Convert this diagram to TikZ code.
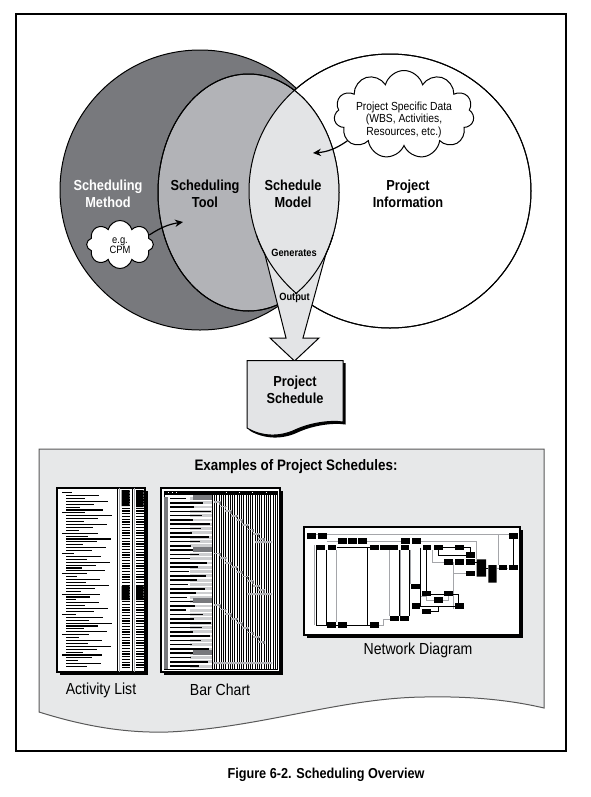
\documentclass[tikz,border=0pt]{standalone}
\usepackage{fontspec}
\setmainfont{Liberation Sans}
\newfontfamily\condfont[FakeStretch=0.88]{Liberation Sans}
\usetikzlibrary{shapes.symbols,arrows.meta}
\definecolor{methodgray}{RGB}{120,121,125}
\definecolor{toolgray}{RGB}{178,179,183}
\definecolor{modelgray}{RGB}{227,228,230}
\definecolor{panelgray}{RGB}{231,232,233}
\definecolor{linkgray}{RGB}{165,166,170}
\tikzset{every picture/.style={line width=0.75pt}}
\tikzset{
  biglabel/.style={font=\condfont\bfseries\fontsize{10.9}{12.5}\selectfont, align=center, inner sep=0pt},
  smalllabel/.style={font=\condfont\bfseries\fontsize{7.9}{9}\selectfont, inner sep=0pt},
  cloudtext/.style={font=\condfont\fontsize{8.8}{9.4}\selectfont, align=center, inner sep=0pt},
  thumbtitle/.style={font=\condfont\fontsize{12}{14}\selectfont, inner sep=0pt},
  puffcloud/.style={cloud, draw, fill=white, cloud ignores aspect, inner sep=0pt},
  linkarrow/.style={-{Stealth[length=6pt,width=5.5pt]}, line width=0.9pt},
  netline/.style={line width=0.45pt},
  netgray/.style={draw=linkgray, line width=0.7pt},
}

\begin{document}
\begin{tikzpicture}[x=0.75pt,y=0.75pt,yscale=-1,xscale=1]
	\useasboundingbox (0,0) rectangle (590,797);

	%Frame
	\draw [line width=0.9pt] (16,14) rectangle (566,751);

	%Shape: Circle - scheduling method
	\filldraw [fill=methodgray] (200,190) circle [radius=140];
	%Shape: Ellipse - project information
	\filldraw [fill=white] (390,191) circle [x radius=141, y radius=137];
	%Shape: Ellipse - scheduling tool
	\filldraw [fill=toolgray] (248.5,192.5) circle [x radius=90.5, y radius=118.5];
	%Shape: Lens - schedule model
	\begin{scope}
		\clip (248.5,192.5) circle [x radius=90.5, y radius=118.5];
		\fill [modelgray] (390,191) circle [x radius=141, y radius=137];
	\end{scope}
	\draw (390,191) circle [x radius=141, y radius=137];
	\draw (248.5,192.5) circle [x radius=90.5, y radius=118.5];

	%Shape: Output arrow
	\fill [modelgray] (264.8,254) -- (286,338) -- (270,338) -- (294.5,361) -- (319,338) -- (303,338) -- (325.9,254) -- cycle;
	\draw (264.8,254) -- (286,338) -- (270,338) -- (294.5,361) -- (319,338) -- (303,338) -- (325.9,254);
	\begin{scope}
		\clip (250,235) rectangle (345,293.5);
		\draw (390,191) circle [x radius=141, y radius=137];
		\draw (248.5,192.5) circle [x radius=90.5, y radius=118.5];
	\end{scope}

	% Text Node
	\node [biglabel, text=white] (method) at (108,194) {Scheduling\\Method};
	% Text Node
	\node [biglabel] (tool) at (205,194) {Scheduling\\Tool};
	% Text Node
	\node [biglabel] (model) at (293,194) {Schedule\\Model};
	% Text Node
	\node [biglabel] (info) at (408,194) {Project\\Information};
	% Text Node
	\node [smalllabel] (generates) at (294,253) {Generates};
	% Text Node
	\node [smalllabel] (output) at (294.5,298) {Output};

	%Shape: Cloud - project data
	\node [puffcloud, cloud puffs=11, minimum width=105pt, minimum height=66pt] (datacloud) at (404,114.5) {};
	\node [cloudtext] (datatext) at (404,119.5) {Project Specific Data\\(WBS, Activities,\\Resources, etc.)};
	%Shape: Cloud - method example
	\node [puffcloud, cloud puffs=8, minimum width=50pt, minimum height=36pt] (cpmcloud) at (120,244.5) {};
	\node [cloudtext, font=\condfont\fontsize{8}{7.5}\selectfont] (cpmtext) at (120,246) {e.g.\\CPM};

	\coordinate (modeltip) at (313,153);
	\coordinate (tooltip) at (183,222);
	%Curve Lines
	\draw [linkarrow] (datacloud.205) to [bend right=15] (modeltip);
	\draw [linkarrow] (cpmcloud.18) to [bend right=12] (tooltip);

	%Shape: Document - project schedule
	\fill [shift={(2.5,2.5)}] (247,360.7) -- (343,360.7) -- (343,422) .. controls (330,420) and (310,423) .. (295,430) .. controls (280,437) and (262,437) .. (247,428) -- cycle;
	\filldraw [fill=modelgray] (247,360.7) -- (343,360.7) -- (343,422) .. controls (330,420) and (310,423) .. (295,430) .. controls (280,437) and (262,437) .. (247,428) -- cycle;
	\node [biglabel] (schedule) at (295,390) {Project\\Schedule};

	%Shape: Panel - examples
	\filldraw [fill=panelgray, draw=black!65] (39,449) -- (544,449) -- (544,708) .. controls (510,700) and (470,696) .. (424,697) .. controls (340,698) and (260,728) .. (168,732) .. controls (130,733) and (90,728) .. (39,712) -- cycle;
	\node [font=\condfont\bfseries\fontsize{11.4}{13}\selectfont, inner sep=0pt] (examples) at (296,467) {Examples of Project Schedules:};

	%Thumbnail: activity list
	\fill (59.5,490.5) rectangle (147.5,674.5);
	\filldraw [fill=white, line width=1pt] (57,488) rectangle (145,672);
	\foreach \i in {0,...,60}{
		\pgfmathsetmacro{\yy}{492+2.9*\i}
		\pgfmathsetmacro{\len}{10+mod(\i*23,37)}
		\pgfmathsetmacro{\xs}{mod(\i,7)==0 ? 62 : 66}
		\fill (\xs,\yy) rectangle ++(\len,1.1);
	}
	\draw [line width=0.4pt] (117.5,488) -- (117.5,672) (132.5,488) -- (132.5,672);
	\draw [linkgray, line width=0.6pt] (119.5,488) -- (119.5,672) (134.5,488) -- (134.5,672);
	\foreach \i in {0,...,64}{
		\pgfmathsetmacro{\yy}{491+2.75*\i}
		\fill (121.5,\yy) rectangle ++(8,1.3);
		\fill (136,\yy) rectangle ++(7.5,1.3);
	}
	\fill (121.5,490) rectangle (129.5,506) (136,490) rectangle (143.5,507);
	\fill (121.5,586) rectangle (129.5,600) (136,586) rectangle (143.5,600);

	%Thumbnail: bar chart
	\fill (163.5,490.5) rectangle (282.5,674.5);
	\filldraw [fill=white, line width=1pt] (161,488) rectangle (280,672);
	\draw [line width=0.45pt] (164,491) rectangle (277,669);
	\fill (164,491) rectangle (277,494.5);
	\foreach \x in {168,172,176,226,239,252,266}
		\fill [white] (\x,491.8) rectangle ++(1.2,1.6);
	\fill [methodgray] (164,497) rectangle (168,669);
	\foreach \x in {212,214.25,...,276}
		\draw [line width=0.35pt] (\x,494.5) -- (\x,669);
	\foreach \i in {0,...,39}{
		\pgfmathsetmacro{\yy}{497+4.3*\i}
		\pgfmathsetmacro{\len}{16+mod(\i*17,26)}
		\fill [toolgray!65] (190,\yy) rectangle (212,\yy+2.8);
		\fill (170,\yy+0.6) rectangle ++(\len,1.6);
	}
	\foreach \yy in {495,547,598,650}
		\fill [methodgray] (193,\yy) rectangle (212,\yy+4.5);
	\foreach \s in {0,1,2}
		\foreach \j in {0,...,8}{
			\fill [toolgray] (214+5.5*\j,501+51.5*\s+4.6*\j) rectangle ++(7,1.8);
			\fill [methodgray] (219+5.5*\j,501.5+51.5*\s+4.6*\j) rectangle ++(1.8,3);
		}
	\fill [toolgray] (255,541) rectangle (272,543) (247,593) rectangle (272,595) (213,662) rectangle (272,664);

	%Thumbnail: network diagram
	\fill (306.5,529.5) rectangle (522.5,637.5);
	\filldraw [fill=white, line width=1.1pt] (304,527) rectangle (520,635);
	\draw [netgray] (315,534) -- (509,534) (314,545) -- (314,625) (326.7,541) -- (338.3,541)
		(367,541) -- (401,541) (420.7,541) -- (476.7,541) -- (476.7,559.3) (498.3,534) -- (498.3,565)
		(336,550) -- (336,622.3) (389.3,550) -- (389.3,616) (400.7,550) -- (400.7,616)
		(378.7,625) -- (383,625) -- (383,619) -- (390,619) (410,550) -- (410,584)
		(432,550) -- (432,562) -- (444,562) (453,562) -- (453,609) (453,573) -- (466,573)
		(420,596) -- (426,596) -- (426,600) -- (434,600) (442.7,600) -- (448,600) -- (448,594)
		(496.7,568) -- (508,568);
	\draw [netline] (316,550) -- (316,625.5) -- (370,625.5) (326.7,550) -- (326.7,625.5)
		(336.7,547.5) -- (370,547.5) (367.7,547.5) -- (367.7,625.5) (399,550) -- (399,616)
		(409.3,550) -- (409.3,616) (420.7,547.5) -- (420.7,606) -- (455,606)
		(426,550) -- (426,591) (442.7,547.5) -- (455,547.5) (431,594) -- (444,594)
		(431,611.5) -- (438,611.5) -- (438,606) (438,550) -- (438,555) -- (466,555)
		(464,547.5) -- (470,547.5) -- (470,552.3) (474.7,562) -- (476.7,562)
		(486,568) -- (488.3,568) (513,538) -- (513,565) (452.7,594) -- (458,594) -- (458,603.3);
	\foreach \bx/\by in {307.3/533.3, 318.3/533.3, 338.3/538.3, 348.3/538.3, 358.3/538.3, 401/538.3,
		412.3/538.3, 509.3/533.3, 316/545, 327.7/545, 370/545, 380/545, 389.3/545, 400.7/545,
		422.7/545, 434/545, 455/545, 466/552.3, 444/559.3, 455/559.3, 466/559.3, 466/571,
		498.7/565, 509.3/565, 411/584, 422/591, 444/591, 434/597.3, 411.7/603.3, 455/603.3,
		422/609, 390/616, 400/616, 327.3/622.3, 338.3/622.3, 370/622.3}
		\fill (\bx,\by) rectangle ++(8.7,5.3);
	\fill (476.7,559.3) rectangle (486,576.7) (488.3,565) rectangle (496.7,582.7);

	% Text Node
	\node [thumbtitle] (actlabel) at (101,690) {Activity List};
	% Text Node
	\node [thumbtitle] (barlabel) at (220,690) {Bar Chart};
	% Text Node
	\node [thumbtitle] (netlabel) at (418,650) {Network Diagram};
	% Text Node
	\node [font=\condfont\bfseries\fontsize{10.8}{13}\selectfont, inner sep=0pt] (caption) at (326,775) {Figure 6-2. Scheduling Overview};

\end{tikzpicture}
\end{document}
